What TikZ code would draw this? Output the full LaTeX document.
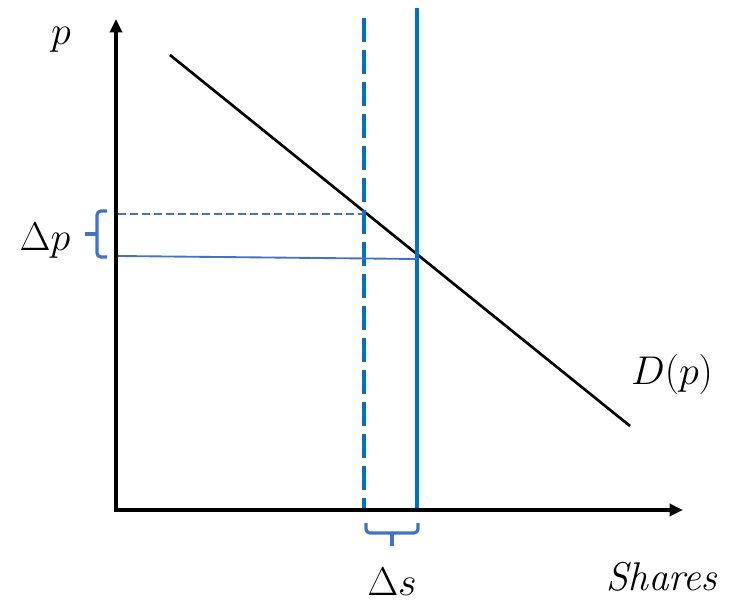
\documentclass[tikz,border=0pt]{standalone}
\usetikzlibrary{arrows.meta}
\definecolor{vblue}{HTML}{0070C0}
\definecolor{hblue}{HTML}{4472C4}
\begin{document}
\begin{tikzpicture}[x=0.75pt,y=-0.75pt,
  axis/.style={line width=3.3pt,-{Triangle[length=10pt,width=9pt]}},
  demand/.style={line width=2pt},
  vline/.style={vblue,line width=3pt},
  hline/.style={hblue,line width=1.4pt},
  bracestyle/.style={hblue,line width=2.4pt,rounded corners=3pt},
  lbl/.style={font=\fontsize{24.88}{30}\selectfont,inner sep=0pt,scale=1.21}]
\useasboundingbox (0,0) rectangle (742,605);
\coordinate (O) at (116,510);
\coordinate (Ytip) at (116,19);
\coordinate (Xtip) at (683,510);
\draw[axis] (116,511.5) -- (Ytip);
\draw[axis] (114.5,510) -- (Xtip);
% demand
\coordinate (D1) at (170,55);
\coordinate (D2) at (630,426);
\draw[demand] (D1) -- (D2);
% verticals
\coordinate (V1t) at (364,18);
\coordinate (V1b) at (364,508);
\coordinate (V2t) at (417,8);
\coordinate (V2b) at (417,508);
\draw[vline,dash pattern=on 18pt off 6pt] (V1t) -- (V1b);
\draw[vline] (V2t) -- (V2b);
% horizontals
\coordinate (H1l) at (118,214);
\coordinate (H1r) at (364,214);
\coordinate (H2l) at (118,256);
\coordinate (H2r) at (417,259);
\draw[hline,dash pattern=on 6pt off 3pt] (H1l) -- (H1r);
\draw[hline] (H2l) -- (H2r);
% left brace
\draw[bracestyle] (107,211) -- (97,211) -- (97,257) -- (107,257);
\draw[bracestyle] (97,234) -- (85,234);
% bottom brace
\draw[bracestyle] (366,523) -- (366,533) -- (418,533) -- (418,523);
\draw[bracestyle] (392,533) -- (392,546);
% labels
\node[lbl] (pl) at (61,40) {$p$};
\node[lbl] (dp) at (45,241) {$\Delta p$};
\node[lbl] (ds) at (392,582) {$\Delta s$};
\node[lbl] (sh) at (663,577) {$\mathit{Shares}$};
\node[lbl] (dl) at (672,374) {$D(p)$};
\end{tikzpicture}
\end{document}
